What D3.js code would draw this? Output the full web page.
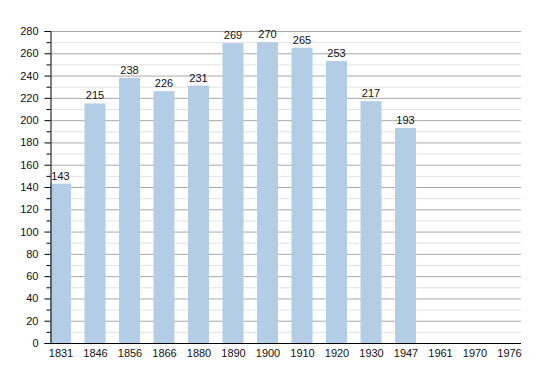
<!DOCTYPE html>
<html><head><meta charset="utf-8">
<script src="https://cdn.jsdelivr.net/npm/d3@7/dist/d3.min.js"></script>
<style>body{margin:0;background:#fff}svg{display:block}text{font-family:"Liberation Sans",Arial,sans-serif}</style>
</head><body><svg id="c" width="550" height="373"></svg>
<script>
const years = ["1831","1846","1856","1866","1880","1890","1900","1910","1920","1930","1947","1961","1970","1976"];
const population = [143,215,238,226,231,269,270,265,253,217,193,null,null,null];
const yTicks = [0,20,40,60,80,100,120,140,160,180,200,220,240,260,280];

(function(){
const svg = d3.select("#c");
const pL = 50, pR = 521, pT = 31, pB = 343;
const x = d3.scalePoint().domain(years).range([60.5, 509]);
const y = d3.scaleLinear().domain([0,280]).range([pB, pT]);
const barW = 21;

// minor gridlines
const minor = d3.range(10, 281, 20);
svg.append("g").selectAll("line").data(minor).join("line")
  .attr("x1", pL).attr("x2", pR).attr("y1", d=>y(d)+0.5).attr("y2", d=>y(d)+0.5)
  .attr("stroke", "#e2e2e2").attr("stroke-width", 1);
svg.append("g").selectAll("line").data(yTicks.filter(d=>d>0)).join("line")
  .attr("x1", pL).attr("x2", pR).attr("y1", d=>y(d)+0.5).attr("y2", d=>y(d)+0.5)
  .attr("stroke", "#a8a8a8").attr("stroke-width", 1);

// bars
const data = years.map((yr,i)=>({yr, v: population[i]})).filter(d=>d.v!=null);
svg.append("g").selectAll("rect").data(data).join("rect")
  .attr("x", d=>x(d.yr)-barW/2).attr("width", barW)
  .attr("y", d=>y(d.v)).attr("height", d=>y(0)-y(d.v))
  .attr("fill", "#b3cde6");
svg.append("g").selectAll("text").data(data).join("text")
  .attr("x", d=>x(d.yr)).attr("y", d=>y(d.v)-4)
  .attr("text-anchor","middle").attr("font-size", 11).attr("fill","#111")
  .text(d=>d.v);

// y axis
const yAxis = d3.axisLeft(y).tickValues(yTicks).tickSize(6).tickPadding(6);
const gy = svg.append("g").attr("transform", `translate(${pL+0.5},0)`).call(yAxis);
gy.select(".domain").attr("stroke","#000");
gy.selectAll(".tick line").attr("stroke","#000");
gy.selectAll(".tick text").attr("font-size", 11).attr("fill","#111").style("font-family","'Liberation Sans',Arial,sans-serif");
const yMinor = d3.axisLeft(y).tickValues(minor).tickSize(4).tickFormat("");
const gym = svg.append("g").attr("transform", `translate(${pL+0.5},0)`).call(yMinor);
gym.select(".domain").remove();
gym.selectAll(".tick line").attr("stroke","#000");

// x axis
const xAxis = d3.axisBottom(x).tickSize(0).tickPadding(6);
const gx = svg.append("g").attr("transform", `translate(0,${pB+0.5})`).call(xAxis);
gx.select(".domain").attr("d", `M${pL},0H${pR}`).attr("stroke","#000");
gx.selectAll(".tick text").attr("font-size", 11).attr("fill","#111").style("font-family","'Liberation Sans',Arial,sans-serif");
})();
</script></body></html>
